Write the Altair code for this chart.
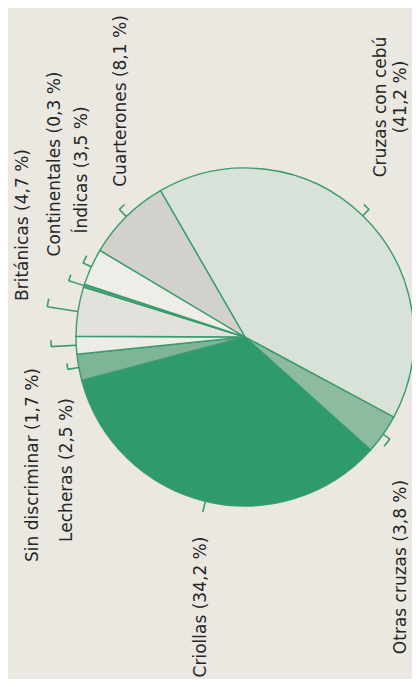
import math
import altair as alt
import pandas as pd

# ---- data ----
categories = ["Cruzas con cebú", "Otras cruzas", "Criollas", "Lecheras",
              "Sin discriminar", "Británicas", "Continentales", "Índicas",
              "Cuarterones"]
shares = [41.2, 3.8, 34.2, 2.5, 1.7, 4.7, 0.3, 3.5, 8.1]

label_lines = ["Cruzas con cebú", "(41,2 %)", "Otras cruzas (3,8 %)",
               "Criollas (34,2 %)", "Lecheras (2,5 %)",
               "Sin discriminar (1,7 %)", "Británicas (4,7 %)",
               "Continentales (0,3 %)", "Índicas (3,5 %)",
               "Cuarterones (8,1 %)"]

# ---- styles / layout ----
slice_colors = ["#d9e2d8", "#8cbb9f", "#2f9a6b", "#7fb597", "#eeece7",
                "#e2e1db", "#4fa27a", "#eeede8", "#d3d1cb"]
label_x = [378, 398, 398, 198, 64, 30, 20, 52, 79, 118]     # chart px (baseline)
label_y = [99, 89, 559, 599, 462, 457, 217, 156, 162, 93]
tick_len = [9, 8, 11, 11, 25, 31, 16, 9, 10]
hook_len = [7, 9, 0, 6, 6, 8, 6, 8, 7]
hook_dir = [-1, 1, 1, 1, 1, 1, 1, 1, 1]

GREEN = "#3a9b6e"
R = 169
CX, CY = 237, 329
START = 330 / 180 * math.pi
theta_scale = alt.Scale(domain=[0, 100], range=[START, START + 2 * math.pi])

pie_df = pd.DataFrame({"cat": categories, "share": shares,
                       "idx": list(range(len(categories))),
                       "color": slice_colors})

# tick geometry derived from slice midpoints
rows_t, rows_h = [], []
cum = 0.0
for i, s in enumerate(shares):
    mid = cum + s / 2
    cum += s
    r0, r1 = R, R + tick_len[i]
    rm = (r0 + r1) / 2
    half = 0.8 / rm / (2 * math.pi) * 100
    rows_t.append({"t0": mid - half, "t1": mid + half, "r0": r0, "r1": r1})
    if hook_len[i] > 0:
        hl = hook_len[i] / r1 / (2 * math.pi) * 100
        a, b = sorted([mid, mid + hook_dir[i] * hl])
        rows_h.append({"t0": a - half * 0.3, "t1": b + half * 0.3,
                       "r0": r1 - 0.8, "r1": r1 + 0.8})
tick_df = pd.DataFrame(rows_t)
hook_df = pd.DataFrame(rows_h)
lab_df = pd.DataFrame({"text": label_lines, "lx": label_x, "ly": label_y})

pie = alt.Chart(pie_df).mark_arc(radius=R, stroke=GREEN, strokeWidth=1.4).encode(
    theta=alt.Theta("share:Q", stack=True, scale=theta_scale),
    order=alt.Order("idx:Q"),
    color=alt.Color("color:N", scale=None),
    x=alt.value(CX), y=alt.value(CY),
)

def seg(df):
    return alt.Chart(df).mark_arc(color=GREEN).encode(
        theta=alt.Theta("t0:Q", stack=None, scale=theta_scale),
        theta2="t1:Q",
        radius=alt.Radius("r0:Q", scale=None),
        radius2="r1:Q",
        x=alt.value(CX), y=alt.value(CY),
    )

labels = alt.Chart(lab_df).mark_text(
    angle=270, font="DejaVu Sans", fontSize=17, baseline="alphabetic",
    align="center", color="#262626",
).encode(
    x=alt.X("lx:Q", scale=None),
    y=alt.Y("ly:Q", scale=None),
    text="text:N",
)

chart = alt.layer(pie, seg(tick_df), seg(hook_df), labels).properties(
    width=404, height=671, padding=0, background="#ebe8e2",
    autosize=alt.AutoSizeParams(type="fit", contains="padding"),
).configure_view(stroke=None)

chart.save("out.html", embed_options={"renderer": "svg", "actions": False})
